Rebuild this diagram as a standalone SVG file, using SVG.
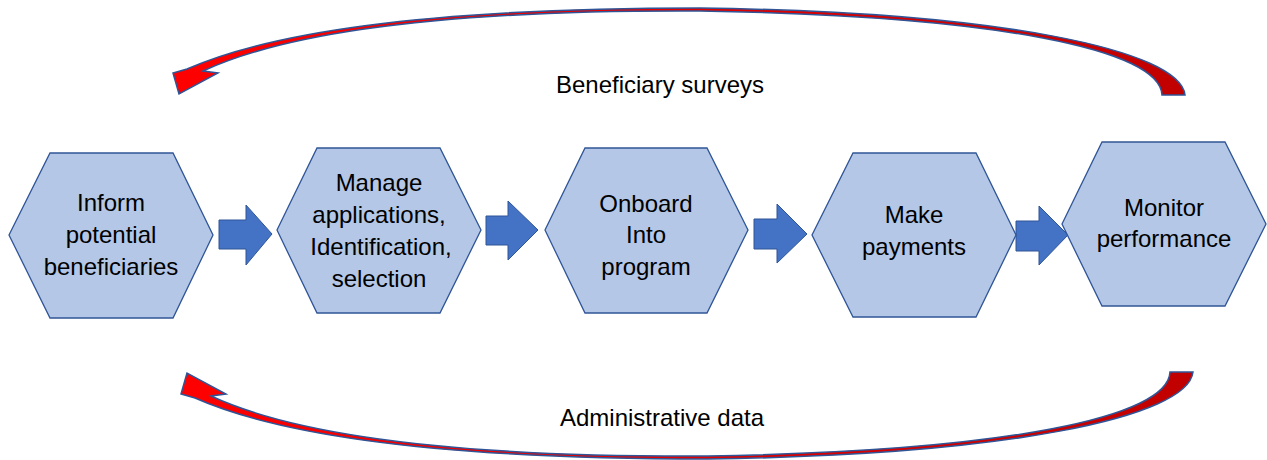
<svg xmlns="http://www.w3.org/2000/svg" width="1267" height="460" viewBox="0 0 1267 460">
<style>
.hex{fill:#B4C7E7;stroke:#2F5597;stroke-width:1.3}
.blk{fill:#4472C4;stroke:#2F5597;stroke-width:1}
.cur{stroke:#2F5597;stroke-width:1.5;stroke-linejoin:miter}
text{font-family:"Liberation Sans",Arial,sans-serif;font-size:24px;fill:#000;text-anchor:middle}
</style>
<defs>
<linearGradient id="rg" x1="170" y1="0" x2="1195" y2="0" gradientUnits="userSpaceOnUse">
<stop offset="0" stop-color="#FF0000"/>
<stop offset="0.55" stop-color="#E00000"/>
<stop offset="1" stop-color="#C00000"/>
</linearGradient>
</defs>
<rect width="1267" height="460" fill="#fff"/>
<g id="connectors">
<path class="cur" fill="url(#rg)" d="M1185,95 C1180,50 1000,12 700,8 C450,8 280,28 187,69 L173,73 L179,94 L218,73 L203,71 C300,26 480,10 700,11 C1000,16 1160,50 1162,95 Z"/>
<path class="cur" fill="url(#rg)" d="M1193,372 C1188,417 1008,455 708,459 C458,459 288,439 195,398 L181,394 L187,373 L226,394 L211,396 C308,441 488,457 708,456 C1008,451 1168,417 1170,372 Z"/>
<polygon class="blk" points="219,220 246,220 246,205 272,234 246,265 246,249 219,249"/>
<polygon class="blk" points="486,216 508,216 508,201 538,230 508,260 508,245 486,245"/>
<polygon class="blk" points="754,219 777,219 777,204 807,234 777,263 777,249 754,249"/>
<polygon class="blk" points="1016,221 1039,221 1039,206 1068,235 1039,265 1039,251 1016,251"/>
</g>
<g id="label-surveys"><text x="660" y="93">Beneficiary surveys</text></g>
<g id="label-admin"><text x="662" y="426">Administrative data</text></g>
<g id="node1">
<polygon class="hex" points="9,235 50,153 173,153 213,235 173,318 50,318"/>
<text x="111" y="211">Inform</text>
<text x="111" y="243">potential</text>
<text x="111" y="275">beneficiaries</text>
</g>
<g id="node2">
<polygon class="hex" points="277,230 317,148 440,148 481,230 440,313 317,313"/>
<text x="379" y="191">Manage</text>
<text x="379" y="223">applications,</text>
<text x="381" y="255">Identification,</text>
<text x="379" y="287">selection</text>
</g>
<g id="node3">
<polygon class="hex" points="545,230 585,148 707,148 748,230 707,313 585,313"/>
<text x="646" y="212">Onboard</text>
<text x="646" y="243">Into</text>
<text x="646" y="275">program</text>
</g>
<g id="node4">
<polygon class="hex" points="812,235 853,153 976,153 1016,235 976,317 853,317"/>
<text x="914" y="223">Make</text>
<text x="914" y="255">payments</text>
</g>
<g id="node5">
<polygon class="hex" points="1062,224 1102,142 1225,142 1266,224 1225,306 1102,306"/>
<text x="1164" y="216">Monitor</text>
<text x="1164" y="247">performance</text>
</g>
</svg>
